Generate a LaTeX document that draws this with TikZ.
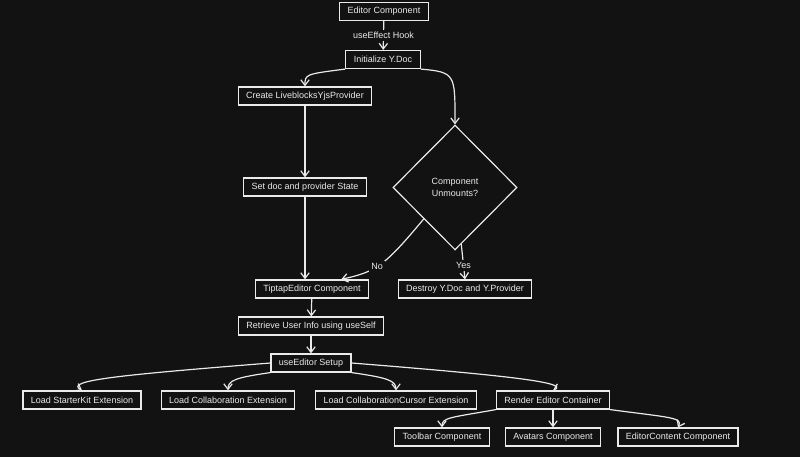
\documentclass[tikz,border=0pt]{standalone}
\usepackage{fontspec}
\setmainfont{Liberation Sans}
\usetikzlibrary{arrows.meta, positioning, shapes.geometric, calc}
\definecolor{canvas}{HTML}{121212}
\definecolor{ink}{HTML}{EAEAEA}

\begin{document}
\begin{tikzpicture}[
    x=0.025cm, y=-0.025cm,
    box/.style={
        rectangle, draw=ink, fill=canvas, text=ink,
        line width=0.85pt,
        minimum height=0.45cm,
        inner xsep=0.2cm, inner ysep=1pt,
        font=\fontsize{6.4}{7.5}\selectfont
    },
    decision/.style={
        diamond, draw=ink, fill=canvas, text=ink,
        line width=0.85pt,
        minimum width=3.1cm, minimum height=3.12cm,
        inner sep=0pt, align=center,
        font=\fontsize{6.4}{8.5}\selectfont
    },
    flow/.style={-{Straight Barb[length=4pt, width=6pt]}, line width=0.85pt, draw=ink},
    flowlbl/.style={font=\fontsize{6.4}{7.5}\selectfont, text=ink, fill=canvas, inner sep=1.5pt}
]

\fill[canvas] (0,0) rectangle (800,457);
\useasboundingbox (0,0) rectangle (800,457);

% === SETUP ===

\node[box] (ec) at (384, 11.5) {Editor Component};
\node[box] (iy) at (383, 59.5) {Initialize Y.Doc};
\node[box] (clp) at (305, 96) {Create LiveblocksYjsProvider};
\node[box] (sds) at (305, 187) {Set doc and provider State};
\node[decision] (dm) at (455, 187.5) {Component\\Unmounts?};
\node[box] (dy) at (465, 289) {Destroy Y.Doc and Y.Provider};

% === EDITOR ===

\node[box] (tt) at (312, 289) {TiptapEditor Component};
\node[box] (ru) at (311, 326) {Retrieve User Info using useSelf};
\node[box] (ue) at (311, 363) {useEditor Setup};

\node[box] (sk) at (82, 400) {Load StarterKit Extension};
\node[box] (lc) at (228, 400) {Load Collaboration Extension};
\node[box] (lcc) at (396, 400) {Load CollaborationCursor Extension};
\node[box] (rec) at (553, 400) {Render Editor Container};

\node[box] (tb) at (442, 437) {Toolbar Component};
\node[box] (av) at (553, 437) {Avatars Component};
\node[box] (ecc) at (678, 437) {EditorContent Component};

% === FLOWS ===

\draw[flow] (ec) -- node[flowlbl] {useEffect Hook} (iy);
\draw[flow] (iy.south west) .. controls +(-40,5) and +(0,-12) .. (clp.north);
\draw[flow] (iy.south east) .. controls +(35,3) and +(0,-50) .. (dm.north);
\draw[flow] (clp) -- (sds);
\draw[flow] (sds.south) -- (sds.south |- tt.north);

% unmount check
\draw[flow] (dm.south west) .. controls +(-40,48) and +(35,-8) .. node[flowlbl, pos=0.55] {No} ($(tt.north east)+(-28,0)$);
\draw[flow] ($(dm.south)!0.1!(dm.east)$) -- node[flowlbl, pos=0.6] {Yes} (dy.north);

\draw[flow] (tt) -- (ru);
\draw[flow] (ru) -- (ue);

% useEditor fan out
\draw[flow] (ue.west) .. controls +(-150,12) and +(-18,-10) .. (sk.north);
\draw[flow] (ue.south west) .. controls +(-35,5) and +(0,-10) .. (lc.north);
\draw[flow] (ue.south east) .. controls +(35,5) and +(0,-10) .. (lcc.north);
\draw[flow] (ue.east) .. controls +(150,12) and +(18,-8) .. (rec.north);

% container children
\draw[flow] (rec.south west) .. controls +(-45,8) and +(0,-10) .. (tb.north);
\draw[flow] (rec) -- (av);
\draw[flow] (rec.south east) .. controls +(60,8) and +(5,-10) .. (ecc.north);

\end{tikzpicture}
\end{document}
